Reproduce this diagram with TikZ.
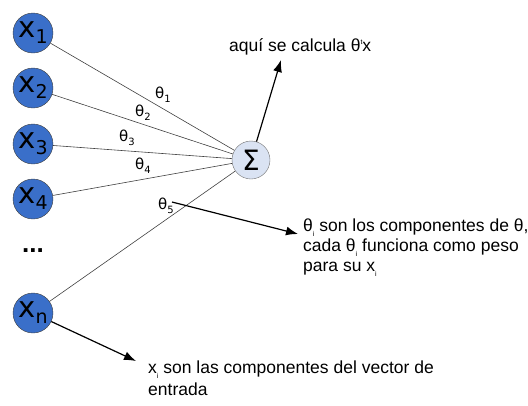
\documentclass[tikz,border=0pt]{standalone}
\usepackage{fontspec}
\setmainfont{Liberation Sans}
\newfontfamily\dejavu{DejaVu Sans}
\usetikzlibrary{arrows.meta}

\definecolor{inblue}{RGB}{58,111,201}
\definecolor{sumblue}{RGB}{218,227,243}

\newcommand{\inlab}[1]{x\raisebox{-6pt}{\fontsize{19}{19}\selectfont #1}}
\newcommand{\thlab}[1]{θ\raisebox{-4pt}{\fontsize{10}{10}\selectfont #1}}
\newcommand{\lowi}{\raisebox{-5pt}{\fontsize{7}{7}\selectfont i}}

\tikzset{
  input/.style={circle, draw=black!75, fill=inblue, minimum size=40pt, inner sep=0pt,
    font=\dejavu\fontsize{29}{29}\selectfont},
  sumnode/.style={circle, draw=black!55, fill=sumblue, minimum size=38pt, inner sep=0pt,
    font=\dejavu\fontsize{28}{28}\selectfont},
  weight/.style={inner sep=0pt, font=\dejavu\fontsize{15}{15}\selectfont},
  note/.style={inner sep=0pt, anchor=base west, align=left,
    font=\fontsize{17.5}{20}\selectfont},
  link/.style={draw=black!75, line width=0.6pt},
  pointer/.style={draw=black, line width=1.2pt, -{Latex[length=12pt,width=9pt]}}
}

\begin{document}
\begin{tikzpicture}[x=1pt,y=-1pt]
  \useasboundingbox (0,0) rectangle (528,405);

  \foreach \i/\y in {1/33,2/88,3/144,4/199}
    \node[input] (x\i) at (33,\y) {\inlab{\i}};
  \node[input] (xn) at (33,313) {\inlab{n}};
  \node[inner sep=0pt, font=\bfseries\fontsize{26}{26}\selectfont] (dots) at (33,251) {...};

  \node[sumnode] (sum) at (251,160) {Σ};

  \foreach \i in {1,...,4}
    \draw[link] (x\i) -- (sum);
  \draw[link] (xn) -- (sum);

  \node[weight] (t1) at (163,95) {\thlab{1}};
  \node[weight] (t2) at (143,113) {\thlab{2}};
  \node[weight] (t3) at (127,138) {\thlab{3}};
  \node[weight] (t4) at (143,166) {\thlab{4}};
  \node[weight] (t5) at (166,206) {\thlab{5}};

  \node[note] (calc) at (229,51) {aquí se calcula θ\raisebox{7pt}{\fontsize{7}{7}\selectfont t}x};
  \node[note] (weights) at (303,271) {θ\lowi{} son los componentes de θ,\\
    cada θ\lowi{} funciona como peso\\ para su x\lowi};
  \node[note, font=\fontsize{17.5}{22}\selectfont] (inputs) at (148,395) {x\lowi{} son las componentes del vector de\\ entrada};

  \coordinate (calcend) at (281,60);
  \coordinate (wstart) at (172,202);
  \coordinate (wend) at (298,234);
  \coordinate (inend) at (136,361);

  \draw[pointer] (sum) -- (calcend);
  \draw[pointer] (wstart) -- (wend);
  \draw[pointer] (xn) -- (inend);
\end{tikzpicture}
\end{document}
